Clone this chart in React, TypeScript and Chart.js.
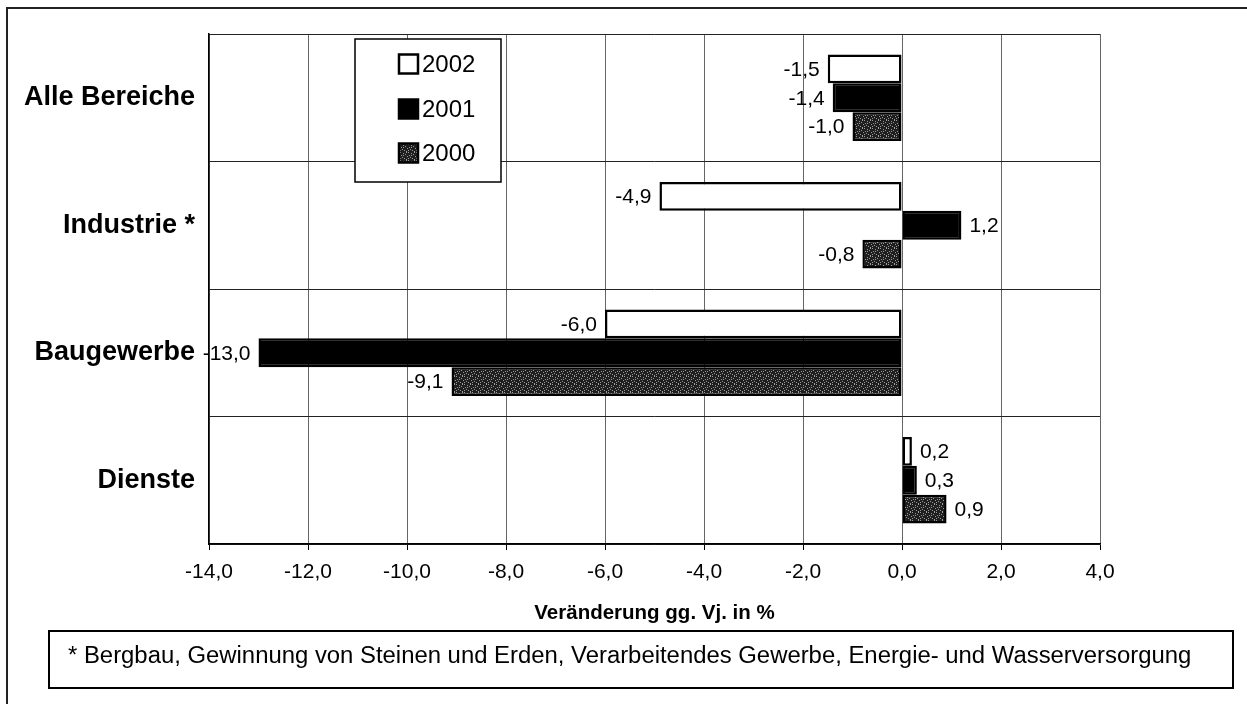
import React, { useEffect, useRef } from "react";
import { Chart, registerables } from "chart.js";

Chart.register(...registerables);

const categories = ["Alle Bereiche", "Industrie *", "Baugewerbe", "Dienste"];
const seriesNames = ["2002", "2001", "2000"];
const values2002 = [-1.5, -4.9, -6.0, 0.2];
const values2001 = [-1.4, 1.2, -13.0, 0.3];
const values2000 = [-1.0, -0.8, -9.1, 0.9];
const xMin = -14;
const xMax = 4;
const xStep = 2;
const axisTitle = "Veränderung gg. Vj. in %";
const footnote =
  "* Bergbau, Gewinnung von Steinen und Erden, Verarbeitendes Gewerbe, Energie- und Wasserversorgung";

const FONT = "Arial, 'Liberation Sans', sans-serif";
const W = 1247;
const H = 704;

const fmt = (v: number) => v.toFixed(1).replace(".", ",");

function makePattern(ctx: CanvasRenderingContext2D) {
  const c = document.createElement("canvas");
  c.width = 8;
  c.height = 8;
  const g = c.getContext("2d")!;
  g.fillStyle = "#1e1e1e";
  g.fillRect(0, 0, 8, 8);
  const pts = [
    [0, 0], [3, 1], [6, 0], [1, 3], [5, 2], [2, 5], [7, 4], [4, 6],
    [0, 6], [6, 7], [3, 3],
  ];
  g.fillStyle = "#9a9a9a";
  pts.forEach(([x, y]) => g.fillRect(x, y, 1, 1));
  return ctx.createPattern(c, "repeat")!;
}

export default function App() {
  const ref = useRef<HTMLCanvasElement | null>(null);

  useEffect(() => {
    const canvas = ref.current!;
    const ctx = canvas.getContext("2d")!;
    const pattern = makePattern(ctx);
    const fills = ["#ffffff", "#000000", pattern];

    const decor = {
      id: "decor",
      beforeDraw(chart: any) {
        const c = chart.ctx;
        c.save();
        c.fillStyle = "#fff";
        c.fillRect(0, 0, W, H);
        c.restore();
      },
      afterDatasetsDraw(chart: any) {
        const c = chart.ctx;
        c.save();
        // data labels
        c.font = `21px ${FONT}`;
        c.fillStyle = "#000";
        c.textBaseline = "middle";
        chart.data.datasets.forEach((ds: any, di: number) => {
          const meta = chart.getDatasetMeta(di);
          meta.data.forEach((el: any, i: number) => {
            const v = ds.data[i] as number;
            const t = fmt(v);
            if (v < 0) {
              c.textAlign = "right";
              c.fillText(t, el.x - 8, el.y + 1);
            } else {
              c.textAlign = "left";
              c.fillText(t, el.x + 8, el.y + 1);
            }
          });
        });
        // legend
        const lx = 355, ly = 39, lw = 146, lh = 143;
        c.fillStyle = "#fff";
        c.fillRect(lx, ly, lw, lh);
        c.strokeStyle = "#000";
        c.lineWidth = 1.5;
        c.strokeRect(lx, ly, lw, lh);
        const rows = [64, 109, 153];
        c.font = `24px ${FONT}`;
        c.textAlign = "left";
        c.textBaseline = "middle";
        seriesNames.forEach((name, i) => {
          const y = rows[i];
          const sx = 399, s = 19;
          c.fillStyle = fills[i] as any;
          c.fillRect(sx, y - s / 2, s, s);
          c.strokeStyle = "#000";
          c.lineWidth = 2.5;
          c.strokeRect(sx, y - s / 2, s, s);
          c.fillStyle = "#000";
          c.fillText(name, sx + s + 4, y + 1);
        });
        c.restore();
      },
      afterDraw(chart: any) {
        const c = chart.ctx;
        c.save();
        // outer frame
        c.strokeStyle = "#222";
        c.lineWidth = 2;
        c.beginPath();
        c.moveTo(7, H);
        c.lineTo(7, 8);
        c.lineTo(W, 8);
        c.stroke();
        // footnote box
        c.lineWidth = 2;
        c.strokeStyle = "#000";
        c.strokeRect(49, 631, 1184, 57);
        c.font = `100px ${FONT}`;
        const w100 = c.measureText(footnote).width;
        const size = (100 * 1124) / w100;
        c.font = `${size.toFixed(2)}px ${FONT}`;
        c.fillStyle = "#000";
        c.textAlign = "left";
        c.textBaseline = "middle";
        c.fillText(footnote, 68, 656);
        c.restore();
      },
    };

    const chart = new Chart(canvas, {
      type: "bar",
      data: {
        labels: categories,
        datasets: [
          { label: seriesNames[0], data: values2002, backgroundColor: fills[0] },
          { label: seriesNames[1], data: values2001, backgroundColor: fills[1] },
          { label: seriesNames[2], data: values2000, backgroundColor: fills[2] },
        ].map((d) => ({
          ...d,
          borderColor: "#000",
          borderWidth: 2.5,
          borderSkipped: false,
          categoryPercentage: 0.68,
          barPercentage: 1.0,
        })) as any,
      },
      options: {
        indexAxis: "y",
        animation: false,
        responsive: false,
        devicePixelRatio: 1,
        layout: { padding: { top: 34, right: 147, bottom: 78, left: 0 } },
        plugins: {
          legend: { display: false },
          tooltip: { enabled: false },
        },
        scales: {
          x: {
            type: "linear",
            min: xMin,
            max: xMax,
            ticks: {
              stepSize: xStep,
              callback: (v: any) => fmt(Number(v)),
              font: { family: FONT, size: 21 },
              color: "#000",
              padding: 10,
              maxRotation: 0,
            },
            grid: { color: "#666", lineWidth: 1, tickLength: 6, tickColor: "#000" },
            border: { display: true, color: "#000", width: 1.5 },
            title: {
              display: true,
              text: axisTitle,
              font: { family: FONT, size: 20.5, weight: "bold" },
              color: "#000",
              padding: { top: 0, bottom: 0 },
            },
            afterFit: (s: any) => {
              s.height = 82;
            },
          },
          y: {
            type: "category",
            ticks: {
              font: { family: FONT, size: 27, weight: "bold" },
              color: "#000",
              padding: 14,
            },
            grid: { color: "#222", lineWidth: 1, offset: true, drawTicks: false },
            border: { display: true, color: "#000", width: 1.5 },
            afterFit: (s: any) => {
              s.width = 209;
            },
          },
        },
      } as any,
      plugins: [decor],
    });
    return () => chart.destroy();
  }, []);

  return (
    <div style={{ position: "fixed", left: 0, top: 0, width: W, height: H, background: "#fff" }}>
      <canvas ref={ref} width={W} height={H} style={{ display: "block", width: W, height: H }} />
    </div>
  );
}
